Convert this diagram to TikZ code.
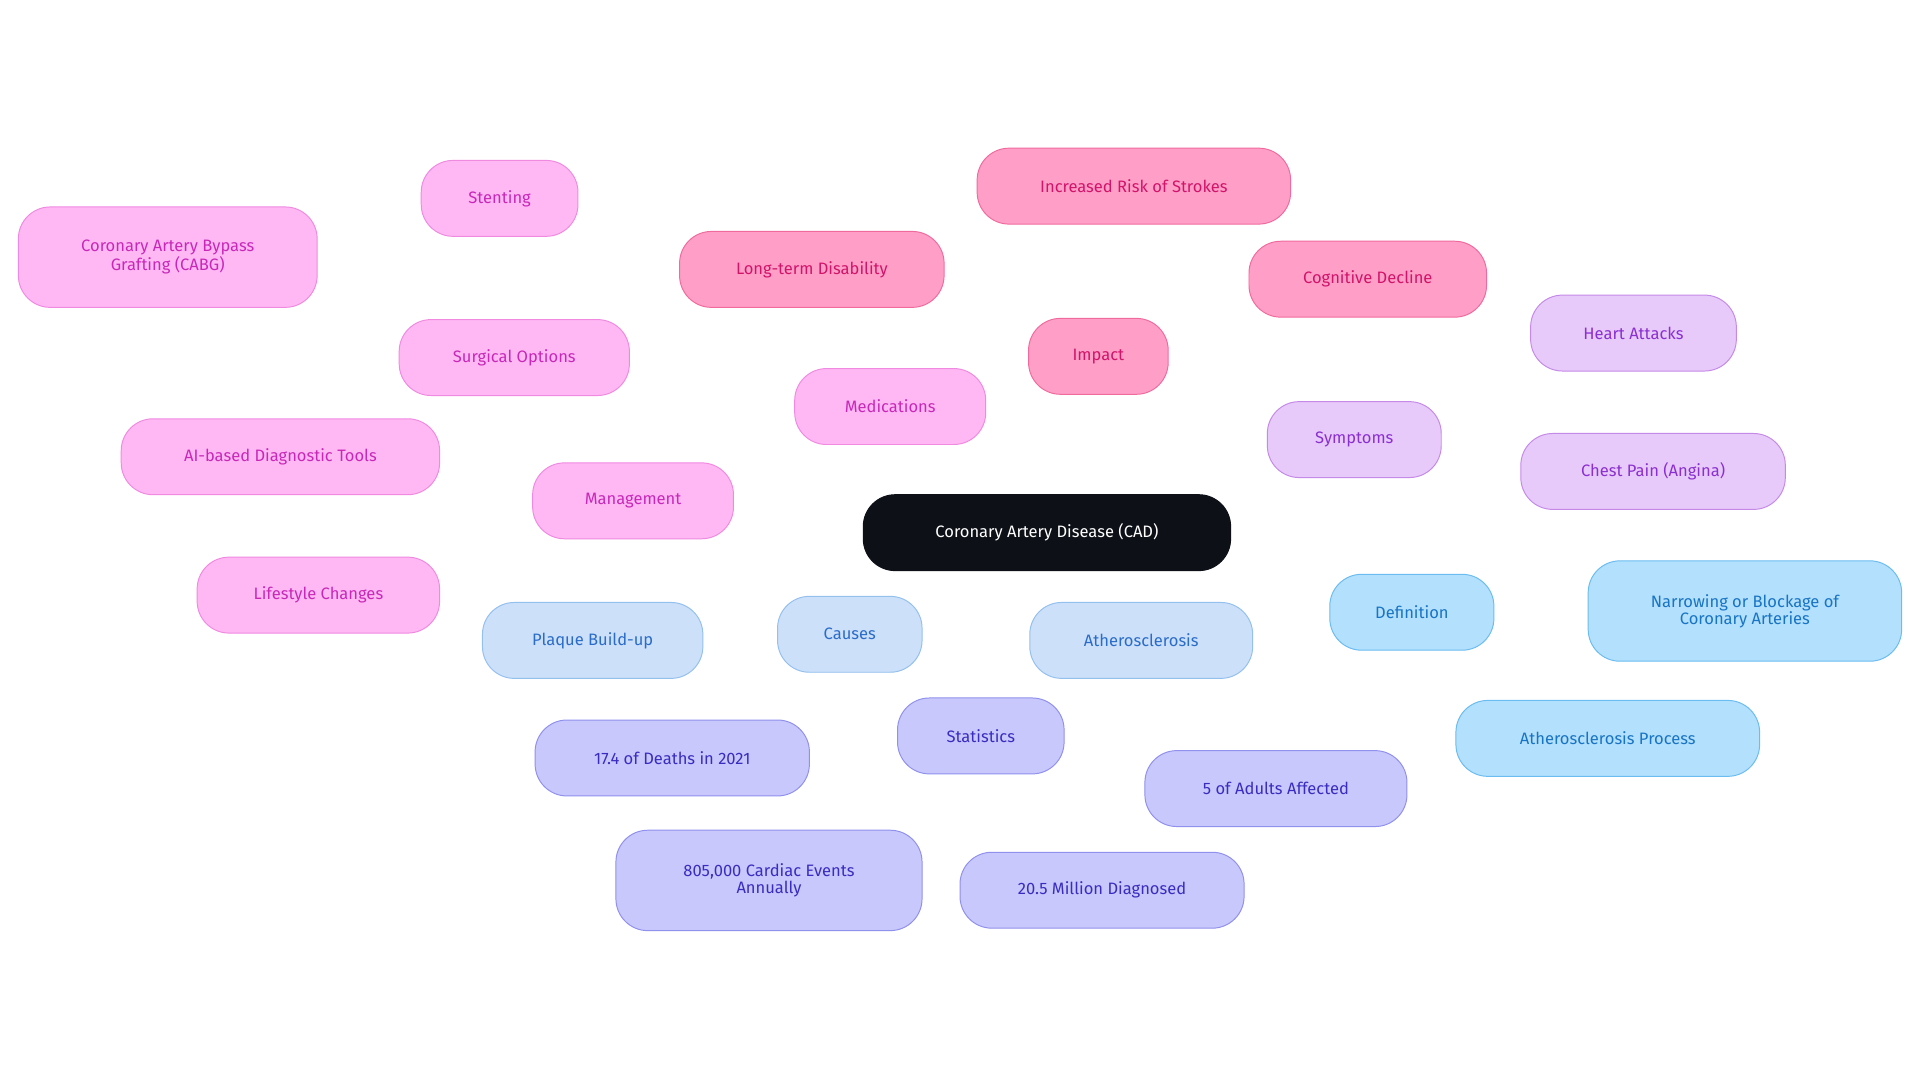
\documentclass[tikz,border=0pt]{standalone}
\usepackage{fontspec}
\setmainfont{Fira Sans}
\begin{document}
\begin{tikzpicture}[x=1pt,y=-1pt,
  b/.style={rounded corners=26pt,minimum height=62pt,align=center,font=\fontsize{13.5}{14}\selectfont\addfontfeatures{}\mdseries, line width=0.8pt,inner sep=2pt},
  pk/.style={b,fill=pkF,draw=pkD,text=pkT},
  pu/.style={b,fill=puF,draw=puD,text=puT},
  bl/.style={b,fill=blF,draw=blD,text=blT},
  ca/.style={b,fill=caF,draw=caD,text=caT},
  st/.style={b,fill=stF,draw=stD,text=stT},
  mg/.style={b,fill=mgF,draw=mgD,text=mgT},
  e/.style={line width=1.8pt}]
\definecolor{pkF}{HTML}{FF9FC8}\definecolor{pkD}{HTML}{F06A9E}\definecolor{pkT}{HTML}{D1136A}
\definecolor{puF}{HTML}{E8CAFA}\definecolor{puD}{HTML}{C58AE8}\definecolor{puT}{HTML}{8A2FD0}
\definecolor{blF}{HTML}{B3E0FC}\definecolor{blD}{HTML}{6BBCF0}\definecolor{blT}{HTML}{1874C4}
\definecolor{caF}{HTML}{CCE0FA}\definecolor{caD}{HTML}{94C0EE}\definecolor{caT}{HTML}{2A6CC8}
\definecolor{stF}{HTML}{C8C8FC}\definecolor{stD}{HTML}{9090EE}\definecolor{stT}{HTML}{3A2CC0}
\definecolor{mgF}{HTML}{FFB8F4}\definecolor{mgD}{HTML}{F08AE0}\definecolor{mgT}{HTML}{C828B8}
\useasboundingbox[fill=white] (0,0) rectangle (1568,884);
% nodes
\node[b,fill={rgb,255:red,13;green,17;blue,23},draw={rgb,255:red,13;green,17;blue,23},text=white,minimum width=300pt] (c) at (855,435) {Coronary Artery Disease (CAD)};
\node[pk,minimum width=114pt] (imp) at (897,291) {Impact};
\node[pk,minimum width=216pt] (ltd) at (663,220) {Long-term Disability};
\node[pk,minimum width=256pt] (irs) at (926,152) {Increased Risk of Strokes};
\node[pk,minimum width=194pt] (cog) at (1117,228) {Cognitive Decline};
\node[pu,minimum width=142pt] (sym) at (1106,359) {Symptoms};
\node[pu,minimum width=168pt] (ha) at (1334,272) {Heart Attacks};
\node[pu,minimum width=216pt] (cp) at (1350,385) {Chest Pain (Angina)};
\node[bl,minimum width=134pt] (def) at (1153,500) {Definition};
\node[bl,minimum width=256pt,minimum height=82pt] (nar) at (1425,499) {Narrowing or Blockage of\\Coronary Arteries};
\node[bl,minimum width=248pt] (ap) at (1313,603) {Atherosclerosis Process};
\node[ca,minimum width=118pt] (cau) at (694,518) {Causes};
\node[ca,minimum width=180pt] (pb) at (484,523) {Plaque Build-up};
\node[ca,minimum width=182pt] (ath) at (932,523) {Atherosclerosis};
\node[st,minimum width=136pt] (sta) at (801,601) {Statistics};
\node[st,minimum width=224pt] (s1) at (549,619) {17.4 of Deaths in 2021};
\node[st,minimum width=214pt] (s2) at (1042,644) {5 of Adults Affected};
\node[st,minimum width=250pt,minimum height=82pt] (s3) at (628,719) {805,000 Cardiac Events\\Annually};
\node[st,minimum width=232pt] (s4) at (900,727) {20.5 Million Diagnosed};
\node[mg,minimum width=164pt] (man) at (517,409) {Management};
\node[mg,minimum width=188pt] (sur) at (420,292) {Surgical Options};
\node[mg,minimum width=128pt] (ste) at (408,162) {Stenting};
\node[mg,minimum width=244pt,minimum height=82pt] (cabg) at (137,210) {Coronary Artery Bypass\\Grafting (CABG)};
\node[mg,minimum width=156pt] (med) at (727,332) {Medications};
\node[mg,minimum width=260pt] (ai) at (229,373) {AI-based Diagnostic Tools};
\node[mg,minimum width=198pt] (life) at (260,486) {Lifestyle Changes};
% edges
\begin{scope}[on background layer/.style={}]
\end{scope}
\begin{pgfinterruptboundingbox}\end{pgfinterruptboundingbox}
\end{tikzpicture}
\end{document}
